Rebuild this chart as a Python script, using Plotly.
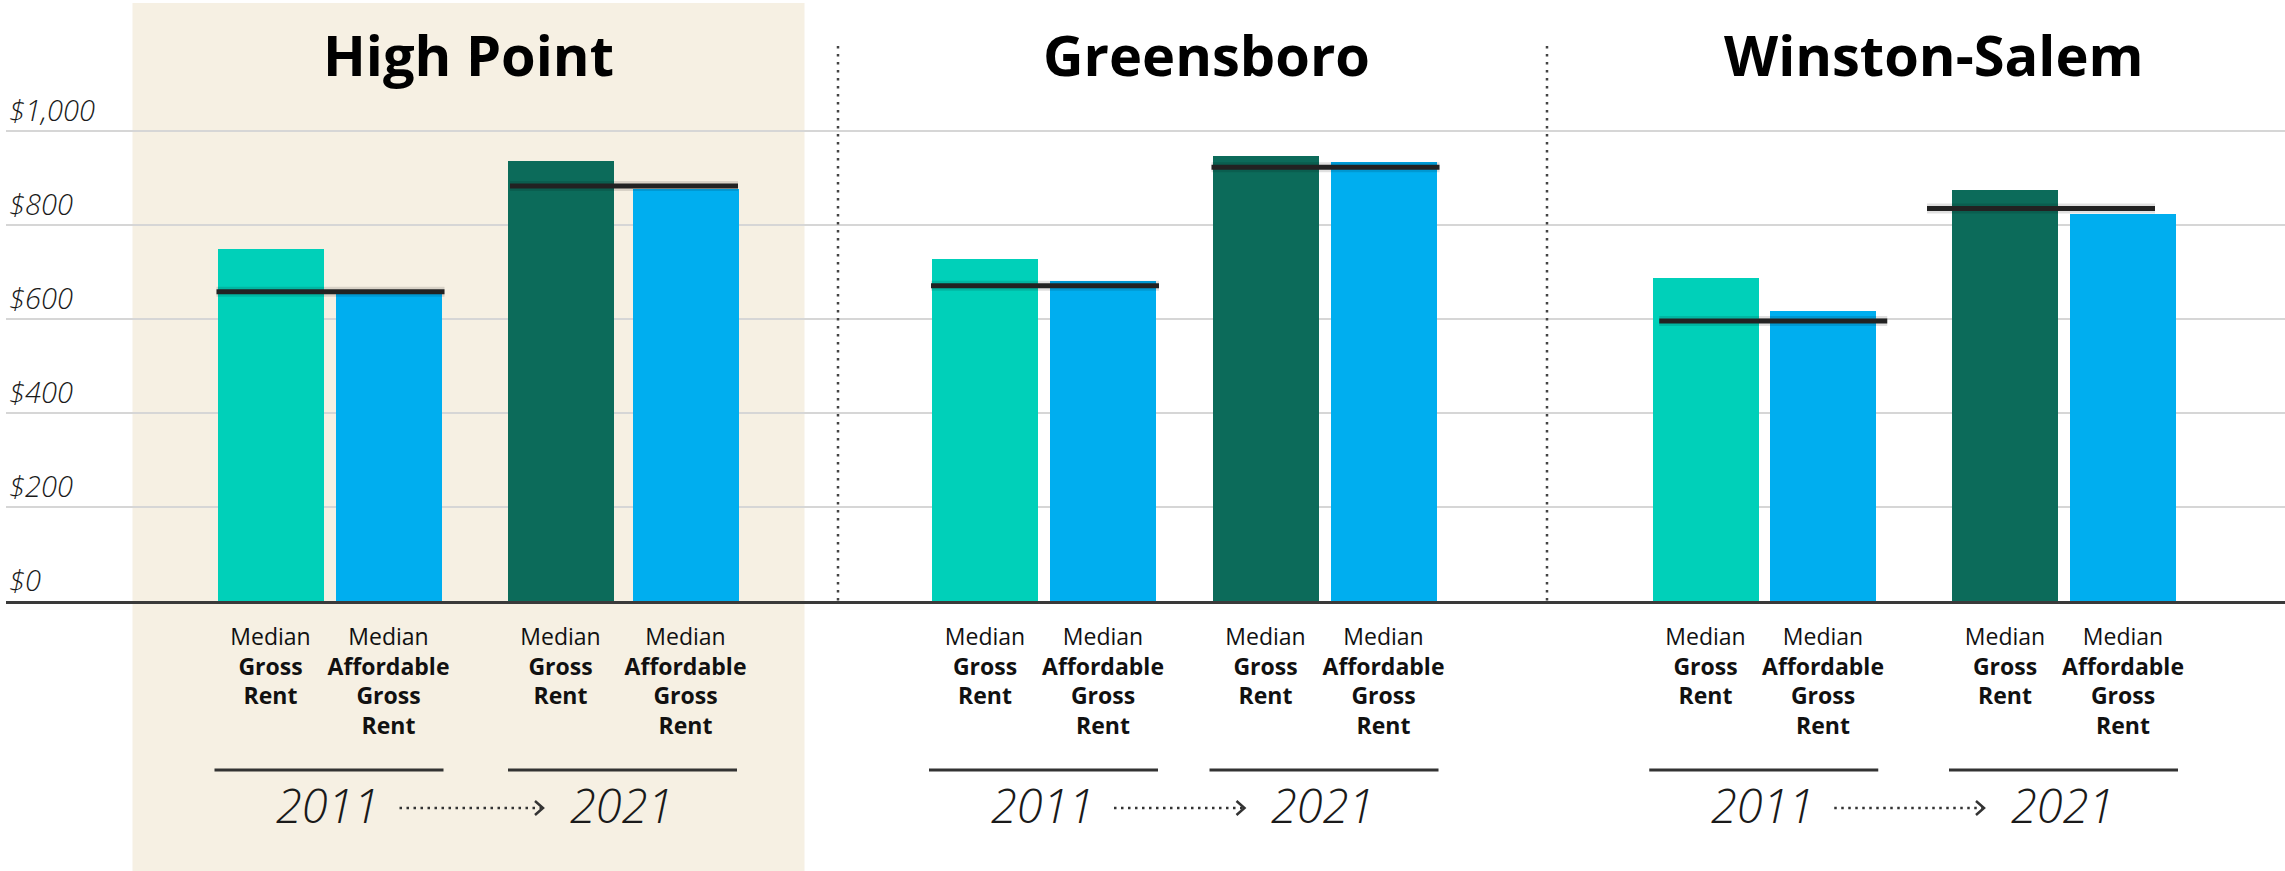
import plotly.graph_objects as go

# ---------------- data ----------------
cities = ["High Point", "Greensboro", "Winston-Salem"]
years = ["2011", "2021"]
gross_2011 = [750, 727, 687]
afford_2011 = [655, 680, 616]
gross_2021 = [936, 946, 874]
afford_2021 = [876, 933, 823]
bench_2011 = [658, 671, 596]
bench_2021 = [883, 923, 835]
ytick_vals = [0, 200, 400, 600, 800, 1000]
ytick_text = ["$0", "$200", "$400", "$600", "$800", "$1,000"]
label_gross = "Median<br><b>Gross</b><br><b>Rent</b>"
label_afford = "Median<br><b>Affordable</b><br><b>Gross</b><br><b>Rent</b>"

# ---------------- layout (pixels) ----------------
W, H = 2285, 871
PLOT_L = 6
AXIS_Y = 601
PX_PER_USD = 0.47
BAR_W = 106
# bar centres per city: gross2011, afford2011, gross2021, afford2021
bar_x = [
    [270.5, 388.5, 560.5, 685.5],
    [985.0, 1103.0, 1265.5, 1383.5],
    [1705.5, 1823.0, 2005.0, 2123.0],
]
title_x = [468, 1206, 1934]
bench_shift = [[0, 0], [0, 0], [8, -24]]
divider_x = [838, 1547]
highlight = (132.5, 804.5)

C_TEAL = "#00D0B9"
C_BLUE = "#00AEEF"
C_DARK = "#0C6B5A"
C_BEIGE = "#F6F0E3"


def px_x(p):
    return (p - PLOT_L) / (W - PLOT_L)


def px_y(p):
    return (AXIS_Y - p) / AXIS_Y


pair_c = [[(b[0] + b[1]) / 2, (b[2] + b[3]) / 2] for b in bar_x]

fig = go.Figure()

series = [
    ("Median Gross Rent 2011", gross_2011, 0, C_TEAL),
    ("Median Affordable Gross Rent 2011", afford_2011, 1, C_BLUE),
    ("Median Gross Rent 2021", gross_2021, 2, C_DARK),
    ("Median Affordable Gross Rent 2021", afford_2021, 3, C_BLUE),
]
for name, vals, idx, col in series:
    fig.add_trace(go.Bar(
        x=[bar_x[c][idx] for c in range(len(cities))], y=vals, width=BAR_W,
        marker=dict(color=col, line=dict(width=0)), name=name,
        showlegend=False, hoverinfo="y+name",
    ))

# benchmark lines
bx, by = [], []
for c in range(len(cities)):
    for k, vals in enumerate([bench_2011, bench_2021]):
        cx = pair_c[c][k] + bench_shift[c][k]
        bx += [cx - 113, cx + 115, None]
        by += [vals[c], vals[c], None]
fig.add_trace(go.Scatter(x=bx, y=by, mode="lines",
                         line=dict(color="rgba(0,0,0,0.12)", width=10),
                         hoverinfo="skip", showlegend=False))
fig.add_trace(go.Scatter(x=bx, y=by, mode="lines",
                         line=dict(color="#222222", width=5),
                         hoverinfo="skip", showlegend=False))

# tick labels under bars
tickvals, ticktext = [], []
for c in range(len(cities)):
    for idx in range(4):
        tickvals.append(bar_x[c][idx])
        ticktext.append(label_gross if idx % 2 == 0 else label_afford)

shapes = []
annotations = []
# highlight panel
shapes.append(dict(type="rect", xref="paper", yref="paper",
                   x0=px_x(highlight[0]), x1=px_x(highlight[1]),
                   y0=px_y(H + 5), y1=px_y(3), fillcolor=C_BEIGE,
                   line=dict(width=0), layer="below"))
# dotted dividers
for dx in divider_x:
    shapes.append(dict(type="line", xref="paper", yref="paper",
                       x0=px_x(dx), x1=px_x(dx), y0=px_y(46), y1=px_y(AXIS_Y),
                       line=dict(color="#444444", width=2.5, dash="2.5px,5.5px")))

for c in range(len(cities)):
    annotations.append(dict(text="<b>" + cities[c] + "</b>", xref="paper", yref="paper",
                            x=px_x(title_x[c]), y=px_y(54), xanchor="center", yanchor="middle",
                            showarrow=False,
                            font=dict(family="Open Sans", size=56, color="#000", weight=800)))
    for k in range(2):
        pc = pair_c[c][k]
        shapes.append(dict(type="line", xref="paper", yref="paper",
                           x0=px_x(pc - 115), x1=px_x(pc + 114), y0=px_y(770), y1=px_y(770),
                           line=dict(color="#333333", width=3)))
        annotations.append(dict(text=years[k], xref="paper", yref="paper",
                                x=px_x(pc - 2), y=px_y(805), xanchor="center", yanchor="middle",
                                showarrow=False,
                                font=dict(family="Open Sans", size=47, weight=300,
                                          color="#1a1a1a", style="italic")))
    # dotted arrow
    a0 = pair_c[c][0] + 70
    a1 = pair_c[c][1] - 80
    ay = 808
    shapes.append(dict(type="line", xref="paper", yref="paper",
                       x0=px_x(a0), x1=px_x(a1 - 2), y0=px_y(ay), y1=px_y(ay),
                       line=dict(color="#333333", width=2.5, dash="2.5px,4.5px")))
    shapes.append(dict(type="path", xref="paper", yref="paper",
                       path=f"M {px_x(a1 - 8)},{px_y(ay - 7)} L {px_x(a1)},{px_y(ay)} L {px_x(a1 - 8)},{px_y(ay + 7)}",
                       line=dict(color="#333333", width=2.5)))

fig.update_layout(
    width=W, height=H,
    margin=dict(l=PLOT_L, r=0, t=0, b=H - AXIS_Y, pad=0),
    paper_bgcolor="white", plot_bgcolor="rgba(0,0,0,0)",
    shapes=shapes, annotations=annotations,
    bargap=0, showlegend=False,
    xaxis=dict(range=[PLOT_L, W], tickvals=tickvals, ticktext=ticktext,
               showgrid=False, zeroline=False, showline=True,
               linecolor="#3a3a3a", linewidth=3, ticks="",
               ticklabelstandoff=13, automargin=False,
               tickfont=dict(family="Open Sans", size=23, color="#111111")),
    yaxis=dict(range=[0, AXIS_Y / PX_PER_USD], tickvals=ytick_vals,
               ticktext=ytick_text, ticklabelposition="inside top",
               showgrid=True, gridcolor="#d6d6d6", gridwidth=2,
               zeroline=False, showline=False, ticks="", automargin=False,
               tickfont=dict(family="Open Sans", size=29, color="#1a1a1a",
                             style="italic", weight=300)),
)

fig.write_html("out.html")
